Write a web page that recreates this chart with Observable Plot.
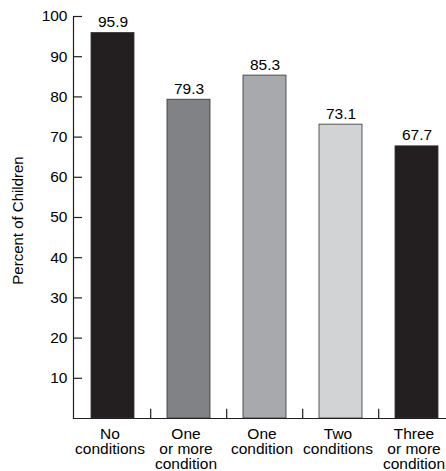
<!DOCTYPE html>
<html>
<head>
<meta charset="utf-8">
<script src="https://cdn.jsdelivr.net/npm/d3@7"></script>
<script src="https://cdn.jsdelivr.net/npm/@observablehq/plot@0.6"></script>
<style>
  html, body { margin: 0; padding: 0; background: #fff; }
</style>
</head>
<body>
<div id="chart"></div>
<script>
const categories = ["No\nconditions", "One\nor more\ncondition", "One\ncondition", "Two\nconditions", "Three\nor more\ncondition"];
const values = [95.9, 79.3, 85.3, 73.1, 67.7];
const barColors = ["#231f20", "#808285", "#a7a9ac", "#d1d3d4", "#231f20"];
const yTicks = [10, 20, 30, 40, 50, 60, 70, 80, 90, 100];
const yTitle = "Percent of Children";

const data = categories.map((c, i) => ({category: c, value: values[i], color: barColors[i]}));

const chart = Plot.plot({
  width: 446,
  height: 471,
  marginLeft: 73,
  marginRight: 0,
  marginTop: 16,
  marginBottom: 53,
  style: {fontFamily: "'Liberation Sans', Arial, sans-serif", fontSize: "15px", color: "#000", background: "#fff"},
  x: {domain: categories, range: [73, 456], paddingInner: 0.44, paddingOuter: 0.22, align: 0.5},
  y: {domain: [0, 100]},
  marks: [
    Plot.barY(data, {x: "category", y: "value", fill: "color", stroke: "#333", strokeWidth: 0.8}),
    Plot.text(data, {x: "category", y: "value", text: d => d.value.toFixed(1), lineAnchor: "bottom", dy: -6, fontSize: 15.5, fill: "#000"}),
    Plot.frame({anchor: "left", stroke: "#231f20", strokeWidth: 1.2}),
    Plot.frame({anchor: "bottom", stroke: "#231f20", strokeWidth: 1.2}),
    Plot.ruleY(yTicks, {y: d => d, insetRight: 446 - 73 - 9, stroke: "#231f20", strokeWidth: 1.2}),
    Plot.axisY({ticks: yTicks, tickSize: 0, tickPadding: 6, label: null, fontSize: 15.5}),
    Plot.ruleX(categories.slice(1), {x: d => d, y1: 0, y2: 2.3, dx: -38.3, stroke: "#231f20", strokeWidth: 1.2}),
    Plot.axisX({tickSize: 0, tickPadding: 10, label: null, fontSize: 15.5, lineHeight: 0.97, lineAnchor: "top", dx: -3}),
    Plot.text([yTitle], {frameAnchor: "left", textAnchor: "middle", text: d => d, rotate: -90, dx: -55, dy: 3, fontSize: 15, fill: "#000"})
  ]
});
document.getElementById("chart").appendChild(chart);
</script>
</body>
</html>
